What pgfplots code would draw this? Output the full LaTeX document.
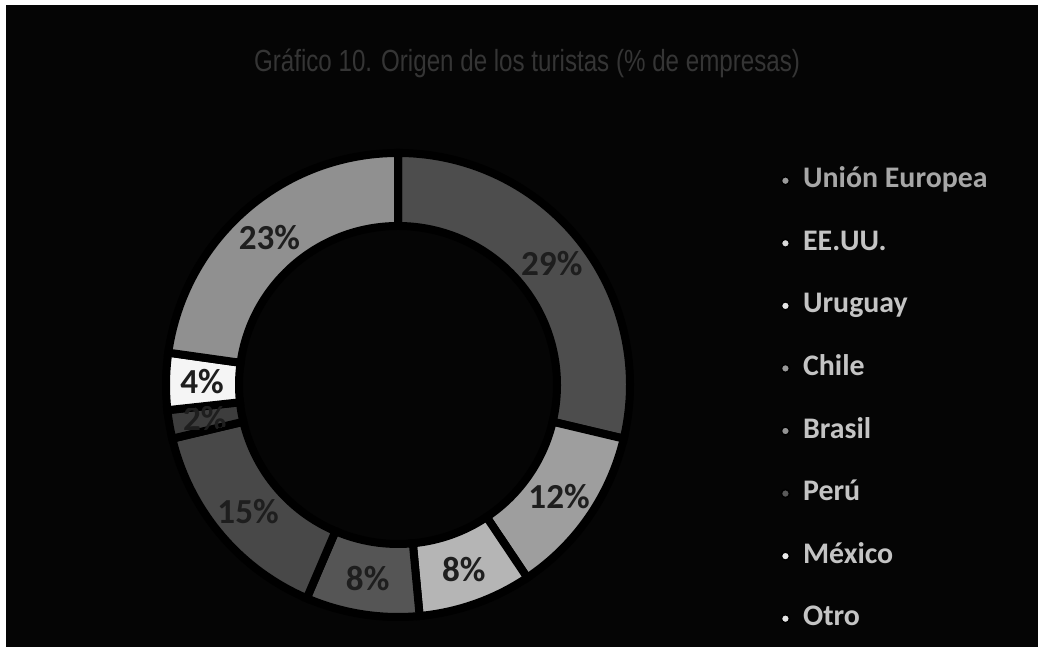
\documentclass[border=0pt]{standalone}
\usepackage{fontspec}
\setmainfont{Carlito}
\newfontfamily\titlefont{Liberation Sans}
\usepackage{pgfplots}
\usepackage{pgfplotstable}
\pgfplotsset{compat=1.18}
\definecolor{c0}{HTML}{4D4D4D}
\definecolor{c1}{HTML}{9E9E9E}
\definecolor{c2}{HTML}{B5B5B5}
\definecolor{c3}{HTML}{555555}
\definecolor{c4}{HTML}{484848}
\definecolor{c5}{HTML}{3D3D3D}
\definecolor{c6}{HTML}{F5F5F5}
\definecolor{c7}{HTML}{909090}
\definecolor{bg}{HTML}{050505}
\definecolor{titlec}{HTML}{353535}
\definecolor{labc}{HTML}{1E1E1E}
\definecolor{legc}{HTML}{C4C4C4}

\pgfplotstableread{
idx value
0 29
1 12
2 8
3 8
4 15
5 2
6 4
7 23
}\datatable

\begin{document}
\begin{tikzpicture}
\fill[white] (0,0) rectangle (10.43,6.47);
\fill[bg] (0.06,0) rectangle (10.38,6.42);
\begin{axis}[
  at={(0,0)}, anchor=south west,
  x=1cm, y=1cm,
  xmin=-3.98, xmax=6.45, ymin=-2.62, ymax=3.85,
  hide axis, clip=false, scale only axis,
  legend style={at={(axis cs:3.82,2.19)}, anchor=north west, draw=none, fill=none,
    font=\fontsize{8.5}{10}\selectfont\bfseries, text=legc,
    row sep=9.8pt, inner sep=0pt, column sep=0.13cm,
    nodes={inner sep=0pt, text height=6pt, text depth=2pt}},
  legend cell align=left,
  legend image code/.code={\fill[#1] (0cm,0cm) circle[radius=0.04cm];},
]
\pgfplotsextra{%
  \gdef\cum{0}%
  \foreach \i/\col in {0/c0,1/c1,2/c2,3/c3,4/c4,5/c5,6/c6,7/c7}{%
    \pgfplotstablegetelem{\i}{value}\of\datatable
    \pgfmathsetmacro\va{\pgfplotsretval}%
    \pgfmathsetmacro\ta{90-\cum/101*360}%
    \pgfmathsetmacro\tb{90-(\cum+\va)/101*360}%
    \fill[\col, draw=black, line width=0.08cm]
      (axis cs:{2.32*cos(\ta)},{2.32*sin(\ta)}) arc[start angle=\ta, end angle=\tb, radius=2.32]
      -- (axis cs:{1.59*cos(\tb)},{1.59*sin(\tb)}) arc[start angle=\tb, end angle=\ta, radius=1.59] -- cycle;
    \pgfmathsetmacro\newcum{\cum+\va}\xdef\cum{\newcum}%
  }%
  \gdef\cum{0}%
  \foreach \i in {0,...,7}{%
    \pgfplotstablegetelem{\i}{value}\of\datatable
    \pgfmathsetmacro\va{\pgfplotsretval}%
    \pgfmathtruncatemacro\vi{\pgfplotsretval}%
    \pgfmathsetmacro\ta{90-\cum/101*360}%
    \pgfmathsetmacro\tb{90-(\cum+\va)/101*360}%
    \pgfmathsetmacro\tm{(\ta+\tb)/2}%
    \ifnum\i=5
      \begin{scope}
      \clip (axis cs:{2.28*cos(\ta)},{2.28*sin(\ta)}) arc[start angle=\ta, end angle=\tb, radius=2.28]
      -- (axis cs:{1.63*cos(\tb)},{1.63*sin(\tb)}) arc[start angle=\tb, end angle=\ta, radius=1.63] -- cycle;
      \node[text=labc, font=\fontsize{10}{12}\selectfont\bfseries, inner sep=0pt] at (axis cs:{1.96*cos(\tm)},{1.96*sin(\tm)}) {\vi\%};
      \end{scope}
    \else
      \node[text=labc, font=\fontsize{10}{12}\selectfont\bfseries, inner sep=0pt] at (axis cs:{1.96*cos(\tm)},{1.96*sin(\tm)}) {\vi\%};
    \fi
    \pgfmathsetmacro\newcum{\cum+\va}\xdef\cum{\newcum}%
  }%
}
\node[text=titlec, inner sep=0pt] at (axis cs:1.29,3.22) {\scalebox{0.79}[1]{\titlefont\fontsize{8.7}{10}\selectfont Gráfico 10. Origen de los turistas (\% de empresas)}};
\addlegendimage{fill=c7!90!white}
\addlegendentry{\textcolor{legc!85!black}{Unión Europea}}
\addlegendimage{fill=gray!30!white}
\addlegendentry{EE.UU.}
\addlegendimage{fill=gray!20!white}
\addlegendentry{Uruguay}
\addlegendimage{fill=gray!80!white}
\addlegendentry{Chile}
\addlegendimage{fill=gray!85!white}
\addlegendentry{Brasil}
\addlegendimage{fill=gray!70!black}
\addlegendentry{Perú}
\addlegendimage{fill=gray!15!white}
\addlegendentry{México}
\addlegendimage{fill=gray!20!white}
\addlegendentry{Otro}
\end{axis}
\end{tikzpicture}
\end{document}
